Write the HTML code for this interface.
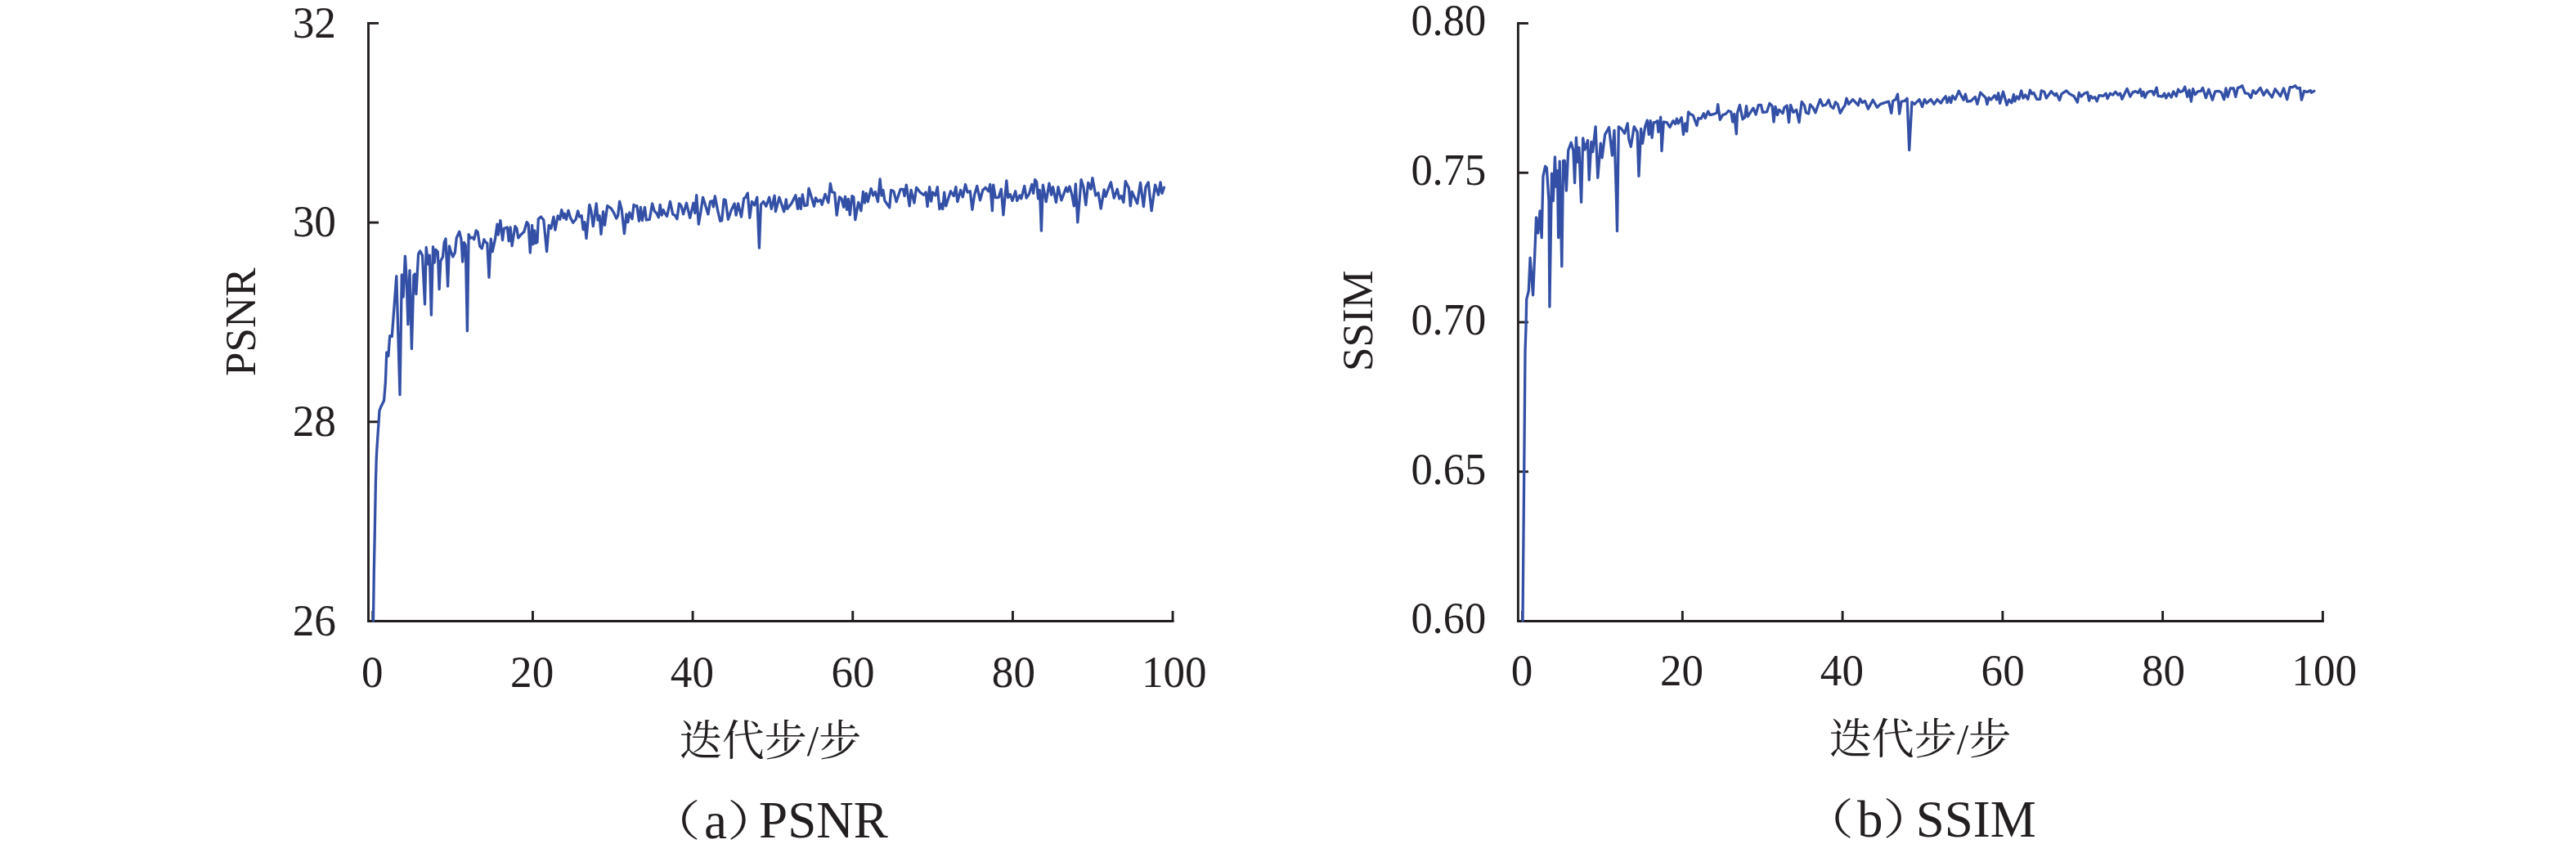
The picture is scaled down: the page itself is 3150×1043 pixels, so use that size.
<!DOCTYPE html>
<html><head><meta charset="utf-8"><title>PSNR / SSIM</title>
<style>html,body{margin:0;padding:0;background:#fff;} svg{display:block;}</style></head>
<body>
<svg width="3150" height="1043" viewBox="0 0 3150 1043">
<rect width="3150" height="1043" fill="#ffffff"/>
<g font-family="'Liberation Serif', 'Noto Serif CJK SC', serif" fill="#231f20">
<path d="M450.50,26.95 V759.50 H1435.50" fill="none" stroke="#231f20" stroke-width="2.9" stroke-linejoin="miter"/>
<line x1="450.50" y1="28.40" x2="463.00" y2="28.40" stroke="#231f20" stroke-width="2.9"/>
<line x1="450.50" y1="272.10" x2="463.00" y2="272.10" stroke="#231f20" stroke-width="2.9"/>
<line x1="450.50" y1="515.80" x2="463.00" y2="515.80" stroke="#231f20" stroke-width="2.9"/>
<line x1="450.50" y1="759.50" x2="463.00" y2="759.50" stroke="#231f20" stroke-width="2.9"/>
<line x1="455.80" y1="759.50" x2="455.80" y2="747.00" stroke="#231f20" stroke-width="2.9"/>
<line x1="651.45" y1="759.50" x2="651.45" y2="747.00" stroke="#231f20" stroke-width="2.9"/>
<line x1="847.10" y1="759.50" x2="847.10" y2="747.00" stroke="#231f20" stroke-width="2.9"/>
<line x1="1042.75" y1="759.50" x2="1042.75" y2="747.00" stroke="#231f20" stroke-width="2.9"/>
<line x1="1238.40" y1="759.50" x2="1238.40" y2="747.00" stroke="#231f20" stroke-width="2.9"/>
<line x1="1434.05" y1="759.50" x2="1434.05" y2="747.00" stroke="#231f20" stroke-width="2.9"/>
<text transform="translate(411.00,45.70) scale(0.97,1)" font-size="55" text-anchor="end">32</text>
<text transform="translate(411.00,289.40) scale(0.97,1)" font-size="55" text-anchor="end">30</text>
<text transform="translate(411.00,533.10) scale(0.97,1)" font-size="55" text-anchor="end">28</text>
<text transform="translate(411.00,776.80) scale(0.97,1)" font-size="55" text-anchor="end">26</text>
<text transform="translate(455.30,839.60) scale(0.965,1)" font-size="55" text-anchor="middle">0</text>
<text transform="translate(650.65,839.60) scale(0.965,1)" font-size="55" text-anchor="middle">20</text>
<text transform="translate(846.40,839.60) scale(0.965,1)" font-size="55" text-anchor="middle">40</text>
<text transform="translate(1043.05,839.60) scale(0.965,1)" font-size="55" text-anchor="middle">60</text>
<text transform="translate(1239.40,839.60) scale(0.965,1)" font-size="55" text-anchor="middle">80</text>
<text transform="translate(1435.85,839.60) scale(0.965,1)" font-size="55" text-anchor="middle">100</text>
<text transform="translate(312.3,393.6) rotate(-90)" font-size="53" text-anchor="middle">PSNR</text>
<text x="942.0" y="923.6" font-size="52" text-anchor="middle" >迭代步/步</text>
<text transform="translate(791.70,1021.60) scale(1.25,1)" font-size="52">（</text>
<text x="860.9" y="1024.6" font-size="63">a</text>
<text transform="translate(889.00,1021.60) scale(1.25,1)" font-size="52">）</text>
<text x="928.1" y="1024.2" font-size="63">PSNR</text>
<path d="M1856.40,27.05 V759.50 H2841.80" fill="none" stroke="#231f20" stroke-width="2.9" stroke-linejoin="miter"/>
<line x1="1856.40" y1="28.50" x2="1868.90" y2="28.50" stroke="#231f20" stroke-width="2.9"/>
<line x1="1856.40" y1="211.25" x2="1868.90" y2="211.25" stroke="#231f20" stroke-width="2.9"/>
<line x1="1856.40" y1="394.00" x2="1868.90" y2="394.00" stroke="#231f20" stroke-width="2.9"/>
<line x1="1856.40" y1="576.75" x2="1868.90" y2="576.75" stroke="#231f20" stroke-width="2.9"/>
<line x1="1856.40" y1="759.50" x2="1868.90" y2="759.50" stroke="#231f20" stroke-width="2.9"/>
<line x1="1861.60" y1="759.50" x2="1861.60" y2="747.00" stroke="#231f20" stroke-width="2.9"/>
<line x1="2057.35" y1="759.50" x2="2057.35" y2="747.00" stroke="#231f20" stroke-width="2.9"/>
<line x1="2253.10" y1="759.50" x2="2253.10" y2="747.00" stroke="#231f20" stroke-width="2.9"/>
<line x1="2448.85" y1="759.50" x2="2448.85" y2="747.00" stroke="#231f20" stroke-width="2.9"/>
<line x1="2644.60" y1="759.50" x2="2644.60" y2="747.00" stroke="#231f20" stroke-width="2.9"/>
<line x1="2840.35" y1="759.50" x2="2840.35" y2="747.00" stroke="#231f20" stroke-width="2.9"/>
<text transform="translate(1817.20,43.30) scale(0.954,1)" font-size="55" text-anchor="end">0.80</text>
<text transform="translate(1817.20,226.05) scale(0.954,1)" font-size="55" text-anchor="end">0.75</text>
<text transform="translate(1817.20,408.80) scale(0.954,1)" font-size="55" text-anchor="end">0.70</text>
<text transform="translate(1817.20,591.55) scale(0.954,1)" font-size="55" text-anchor="end">0.65</text>
<text transform="translate(1817.20,774.30) scale(0.954,1)" font-size="55" text-anchor="end">0.60</text>
<text transform="translate(1861.10,837.80) scale(0.965,1)" font-size="55" text-anchor="middle">0</text>
<text transform="translate(2056.55,837.80) scale(0.965,1)" font-size="55" text-anchor="middle">20</text>
<text transform="translate(2252.40,837.80) scale(0.965,1)" font-size="55" text-anchor="middle">40</text>
<text transform="translate(2449.15,837.80) scale(0.965,1)" font-size="55" text-anchor="middle">60</text>
<text transform="translate(2645.60,837.80) scale(0.965,1)" font-size="55" text-anchor="middle">80</text>
<text transform="translate(2842.15,837.80) scale(0.965,1)" font-size="55" text-anchor="middle">100</text>
<text transform="translate(1678.3,392.2) rotate(-90)" font-size="53" text-anchor="middle">SSIM</text>
<text x="2348.0" y="921.6" font-size="52" text-anchor="middle" >迭代步/步</text>
<text transform="translate(2202.00,1019.80) scale(1.25,1)" font-size="52">（</text>
<text x="2271" y="1022.8" font-size="63">b</text>
<text transform="translate(2302.30,1019.80) scale(1.25,1)" font-size="52">）</text>
<text x="2342.7" y="1022.6" font-size="63">SSIM</text>
<polyline points="456.5,759.0 457.3,700.0 458.3,650.0 459.4,590.0 460.2,562.0 460.8,550.0 462.6,523.1 464.0,502.0 466.1,496.7 469.6,489.7 471.4,466.8 472.8,430.8 474.9,435.2 476.7,410.6 479.3,411.4 484.8,337.7 489.0,482.7 491.3,336.0 493.1,363.2 495.4,313.1 497.1,340.4 498.9,396.6 501.0,330.7 503.4,426.4 505.9,336.8 507.2,335.1 508.9,359.7 511.6,310.5 513.7,306.9 516.5,312.2 519.5,372.0 521.2,302.5 523.5,322.8 525.3,312.2 527.4,385.2 529.5,301.7 531.3,321.0 532.7,305.2 535.3,307.8 537.1,353.6 538.8,319.3 541.5,314.0 543.2,296.4 545.0,292.0 547.6,350.0 549.4,300.8 551.1,306.9 553.8,314.0 556.4,308.7 558.2,291.1 561.7,283.2 564.0,292.9 565.7,320.1 567.5,296.4 569.3,299.9 571.4,404.6 573.1,286.7 575.2,291.1 577.5,290.2 579.7,292.8 582.2,281.9 584.2,283.8 586.8,301.2 589.3,303.8 591.9,292.8 593.8,296.1 595.8,297.3 598.0,339.1 600.3,292.2 602.2,307.7 605.5,292.2 608.0,274.1 609.3,287.0 611.9,269.6 614.5,293.5 616.4,279.3 620.3,278.0 622.2,294.8 624.1,278.0 626.1,300.6 629.9,276.7 631.9,279.3 633.8,290.9 637.0,287.0 640.9,283.2 644.1,271.6 646.1,274.1 648.3,309.0 650.6,275.4 651.9,298.6 653.8,281.9 655.1,297.3 657.0,296.1 658.3,267.7 661.5,265.1 664.8,269.0 668.6,307.7 671.2,275.4 673.8,279.3 677.0,265.1 678.9,281.2 682.2,263.8 684.7,268.3 686.7,256.7 689.2,266.4 690.5,261.3 692.5,268.3 695.0,257.4 697.6,266.4 700.8,272.2 704.1,268.3 706.7,258.0 708.6,265.1 711.2,263.8 713.1,280.6 715.0,271.6 717.0,291.5 720.8,250.3 722.8,257.4 725.3,276.7 729.2,249.0 731.1,269.0 733.1,263.8 735.0,286.4 737.6,258.7 739.5,275.4 742.7,251.6 747.3,254.8 750.5,260.0 753.7,267.1 755.6,263.8 757.6,246.4 760.2,256.1 763.4,285.7 766.0,261.9 767.9,271.6 769.8,260.0 773.0,267.7 775.0,250.3 776.9,252.2 778.8,251.6 781.4,270.3 783.4,253.5 785.3,269.6 788.5,253.5 790.4,269.0 794.3,268.3 797.6,249.0 800.2,258.0 802.7,260.6 805.3,265.7 807.2,250.3 809.2,263.2 811.1,256.7 813.0,260.6 815.6,264.5 819.5,246.4 822.7,261.9 825.3,263.2 827.9,267.7 830.5,249.0 833.0,251.6 835.6,261.9 839.5,248.3 843.7,266.4 847.9,248.3 849.8,260.6 851.7,238.7 854.3,274.1 856.9,259.3 859.5,241.3 862.0,249.0 865.9,261.9 868.5,246.4 871.1,245.8 872.3,252.9 874.3,240.0 877.5,256.7 880.7,270.3 882.7,269.6 885.2,243.8 887.2,244.5 890.4,268.3 894.3,256.7 898.1,249.0 900.1,263.2 902.6,249.0 906.5,265.1 909.7,242.5 911.7,241.3 914.2,236.1 916.8,266.4 919.4,246.4 922.6,250.9 925.8,241.3 928.4,303.1 930.4,250.3 933.6,246.4 936.8,252.2 940.7,241.3 943.3,255.4 947.1,239.3 948.4,258.7 952.9,241.3 958.7,258.7 961.3,243.8 962.6,255.4 967.7,249.0 972.9,238.7 975.5,255.4 977.4,242.5 979.3,255.4 981.3,238.0 983.9,251.6 987.1,250.9 989.0,230.3 991.6,238.7 995.5,252.2 997.4,241.9 1000.0,246.4 1003.2,244.5 1005.1,250.3 1009.0,237.4 1012.9,247.7 1015.4,224.5 1017.4,234.8 1020.6,235.5 1023.2,263.2 1026.4,240.9 1029.0,242.9 1031.6,253.2 1033.5,240.3 1035.5,256.4 1037.4,243.5 1039.3,262.8 1041.9,239.6 1043.8,240.9 1045.8,268.6 1049.7,247.4 1052.9,257.7 1055.5,234.5 1057.4,248.0 1059.3,236.4 1061.3,246.7 1065.1,230.6 1067.7,239.0 1070.3,234.5 1073.5,246.7 1076.1,219.0 1078.0,239.0 1079.9,232.5 1081.9,245.4 1087.7,253.8 1089.6,232.5 1092.8,233.8 1096.1,246.7 1101.2,231.3 1104.4,231.3 1106.1,239.6 1108.3,226.1 1112.2,251.9 1114.1,232.5 1118.0,248.0 1120.6,229.3 1125.1,235.1 1129.6,238.3 1132.2,235.1 1134.1,252.5 1136.7,228.7 1138.6,246.1 1140.5,235.1 1143.8,239.0 1146.3,228.7 1148.9,255.7 1151.5,249.3 1152.8,255.7 1154.7,235.1 1156.7,251.9 1162.5,233.8 1166.3,239.6 1168.9,228.7 1170.8,246.7 1174.7,232.5 1177.3,240.9 1180.5,225.5 1183.1,235.1 1186.3,233.8 1188.9,256.4 1191.5,239.0 1194.7,227.4 1198.5,244.8 1201.8,232.5 1205.0,229.3 1208.9,233.8 1210.8,225.5 1213.4,257.7 1214.7,226.1 1217.2,241.6 1221.1,241.6 1224.3,231.3 1226.9,262.8 1230.8,220.9 1232.7,241.6 1235.3,237.7 1237.9,245.4 1241.7,233.8 1243.7,245.4 1246.9,239.0 1248.9,242.9 1252.7,227.4 1255.1,242.2 1258.5,237.1 1261.8,225.5 1263.7,236.4 1265.6,219.7 1267.6,222.2 1269.5,242.9 1271.4,232.5 1273.4,282.2 1275.3,226.1 1279.2,246.7 1283.0,224.2 1285.6,238.3 1287.5,228.7 1291.4,247.4 1294.0,228.7 1297.9,244.8 1303.7,229.3 1305.6,234.5 1307.9,228.0 1310.7,237.7 1313.3,251.9 1315.3,224.8 1317.8,271.9 1322.1,219.7 1324.9,228.7 1327.8,250.6 1330.7,223.5 1334.0,231.3 1335.9,217.7 1339.8,239.0 1343.0,235.8 1346.2,255.1 1350.1,231.9 1352.0,240.3 1355.2,231.3 1358.4,222.9 1362.3,242.2 1366.2,231.3 1368.8,242.9 1371.3,239.6 1373.9,247.4 1376.2,221.6 1380.4,230.0 1382.3,251.9 1384.2,234.5 1390.7,248.7 1394.5,223.5 1398.4,252.5 1401.0,228.7 1404.2,222.9 1408.1,257.7 1412.6,226.1 1416.5,238.3 1419.0,222.9 1421.0,236.4 1423.5,229.3" fill="none" stroke="#3350a6" stroke-width="3.3" stroke-linejoin="round" stroke-linecap="round"/>
<polyline points="1862.0,759.0 1863.5,600.0 1865.0,430.0 1866.0,400.0 1866.7,366.2 1869.3,355.6 1871.1,315.2 1874.6,360.9 1877.3,297.6 1878.5,265.8 1880.8,285.1 1883.1,257.9 1885.2,290.6 1886.9,215.6 1889.6,203.3 1891.3,205.1 1894.0,245.5 1894.9,375.0 1897.5,212.1 1899.3,245.5 1901.4,191.9 1902.8,228.0 1904.5,208.6 1905.6,290.6 1907.2,197.2 1909.8,325.7 1911.6,196.3 1913.3,196.3 1915.4,233.2 1917.7,184.0 1921.2,174.3 1923.9,184.0 1925.6,223.6 1927.4,168.1 1929.2,198.0 1930.9,180.5 1933.6,247.3 1935.7,169.0 1938.0,183.1 1941.5,171.7 1943.2,220.0 1945.9,173.4 1947.6,185.7 1951.1,155.0 1953.8,217.4 1957.3,175.2 1959.1,192.8 1962.6,164.6 1967.5,155.8 1971.4,190.1 1974.0,159.3 1976.6,245.5 1977.5,282.5 1979.3,155.0 1982.7,157.4 1986.6,163.2 1990.2,150.9 1991.8,170.3 1994.3,179.3 1998.2,154.8 2002.1,161.3 2004.0,215.4 2006.6,157.4 2008.5,175.4 2011.7,154.8 2014.3,147.1 2016.3,164.5 2018.2,147.7 2020.1,168.3 2022.1,149.7 2024.0,149.7 2026.6,147.7 2027.9,161.3 2030.7,143.2 2032.0,184.5 2034.3,149.0 2038.2,149.7 2042.0,155.5 2045.9,147.7 2048.5,151.6 2050.4,145.1 2052.3,150.9 2056.2,143.8 2058.5,164.5 2060.7,150.9 2062.7,160.6 2064.6,136.8 2066.5,139.3 2070.4,141.3 2074.9,153.5 2076.8,144.5 2080.1,145.1 2083.3,138.7 2085.2,144.5 2088.7,136.1 2091.0,140.6 2096.2,139.3 2099.4,138.0 2100.7,127.7 2103.3,146.4 2106.5,140.6 2110.4,139.3 2113.6,135.5 2116.8,136.8 2118.7,149.0 2120.7,139.3 2123.3,163.8 2124.5,138.0 2127.4,128.4 2131.0,145.8 2133.6,143.8 2135.5,129.7 2137.2,142.6 2143.9,132.2 2147.1,140.0 2150.3,128.4 2153.5,128.4 2155.5,137.4 2160.6,136.8 2163.9,126.4 2167.1,129.7 2169.0,149.0 2171.0,130.3 2173.5,140.6 2175.5,134.2 2180.0,138.7 2181.9,131.6 2185.1,129.0 2187.5,149.7 2189.6,128.4 2192.9,137.4 2196.7,134.2 2200.0,149.7 2203.2,124.5 2206.4,128.7 2208.4,137.7 2211.6,139.0 2213.5,128.0 2216.8,131.3 2220.0,137.7 2222.6,130.0 2225.8,121.6 2229.0,129.3 2232.9,128.0 2236.1,122.2 2238.7,130.0 2241.9,132.5 2244.5,124.8 2247.1,127.4 2250.3,138.3 2253.5,132.5 2256.1,128.7 2258.0,120.3 2260.6,127.4 2265.7,121.6 2272.2,128.7 2274.5,120.9 2277.3,125.5 2280.6,123.5 2284.4,133.2 2290.2,122.2 2295.4,131.3 2299.3,127.4 2303.1,126.1 2307.0,124.8 2309.6,124.2 2312.8,138.3 2314.7,123.5 2318.0,121.6 2320.5,115.1 2322.7,139.0 2325.0,124.2 2328.9,123.5 2332.1,120.3 2334.7,183.5 2337.9,124.8 2341.2,127.4 2347.0,121.6 2350.6,130.6 2353.4,121.6 2356.0,126.1 2361.1,121.6 2365.0,127.4 2368.9,121.6 2373.4,126.1 2376.0,121.6 2379.2,117.7 2381.1,125.5 2383.7,119.0 2385.6,125.5 2387.6,117.1 2390.8,121.6 2395.3,111.3 2398.5,117.7 2401.1,122.2 2403.4,115.1 2405.6,124.2 2410.1,123.5 2415.3,118.4 2417.9,127.4 2421.7,113.2 2425.0,116.4 2428.2,119.7 2429.9,127.7 2432.1,119.3 2434.7,121.9 2439.2,116.7 2441.5,121.9 2443.7,113.8 2445.6,126.4 2449.5,112.2 2454.0,128.3 2456.6,121.9 2459.8,125.8 2462.4,115.5 2463.7,123.8 2466.3,118.0 2468.8,121.3 2471.7,110.9 2474.0,120.0 2476.6,116.1 2479.8,121.3 2482.4,110.3 2484.9,114.8 2486.9,113.5 2490.7,121.3 2494.6,121.3 2496.2,110.9 2499.8,112.2 2502.3,120.0 2508.2,111.6 2512.7,116.7 2514.6,114.2 2518.5,122.5 2521.0,114.8 2526.8,110.9 2530.7,114.8 2535.9,117.4 2540.4,125.1 2542.3,113.5 2544.9,118.0 2548.8,114.2 2552.6,112.9 2554.6,123.2 2556.5,117.4 2559.1,120.0 2561.7,118.7 2564.2,123.8 2566.8,116.7 2572.0,117.4 2575.2,114.2 2577.1,120.6 2580.3,114.2 2583.6,116.1 2586.8,112.2 2590.0,116.1 2592.6,114.2 2594.9,121.3 2601.0,108.4 2604.8,118.0 2608.1,112.9 2611.3,111.6 2614.5,113.5 2617.1,109.0 2619.0,117.4 2621.0,112.2 2622.9,119.3 2625.5,113.5 2628.7,111.6 2631.9,111.6 2633.8,116.1 2637.1,107.1 2639.0,117.4 2644.2,118.0 2646.7,114.2 2648.7,120.0 2651.9,114.2 2655.2,119.0 2657.7,111.9 2661.3,117.7 2663.5,109.3 2666.1,112.5 2669.3,111.3 2671.7,106.1 2674.8,118.3 2677.1,110.0 2679.4,124.1 2681.6,108.7 2684.2,115.8 2687.4,111.9 2691.3,111.3 2693.6,107.4 2697.4,119.6 2700.9,109.3 2705.4,122.2 2708.7,111.9 2713.2,111.3 2716.4,113.2 2719.6,121.6 2721.9,108.0 2724.1,118.3 2727.3,108.0 2731.2,108.0 2733.8,118.3 2736.4,107.4 2739.0,106.7 2741.8,104.8 2745.4,113.8 2749.3,114.5 2752.5,119.6 2755.1,110.6 2758.3,114.5 2764.1,107.4 2768.0,116.4 2771.8,110.0 2774.4,113.8 2778.3,119.0 2782.1,108.7 2788.6,117.7 2792.5,108.0 2796.7,121.6 2800.2,106.7 2803.4,106.7 2806.6,104.8 2809.2,108.0 2812.4,107.4 2814.4,122.2 2817.6,111.3 2820.8,112.5 2822.7,111.9 2825.3,110.6 2826.6,113.2 2829.8,111.3" fill="none" stroke="#3350a6" stroke-width="3.3" stroke-linejoin="round" stroke-linecap="round"/>
</g>
</svg>
</body></html>
